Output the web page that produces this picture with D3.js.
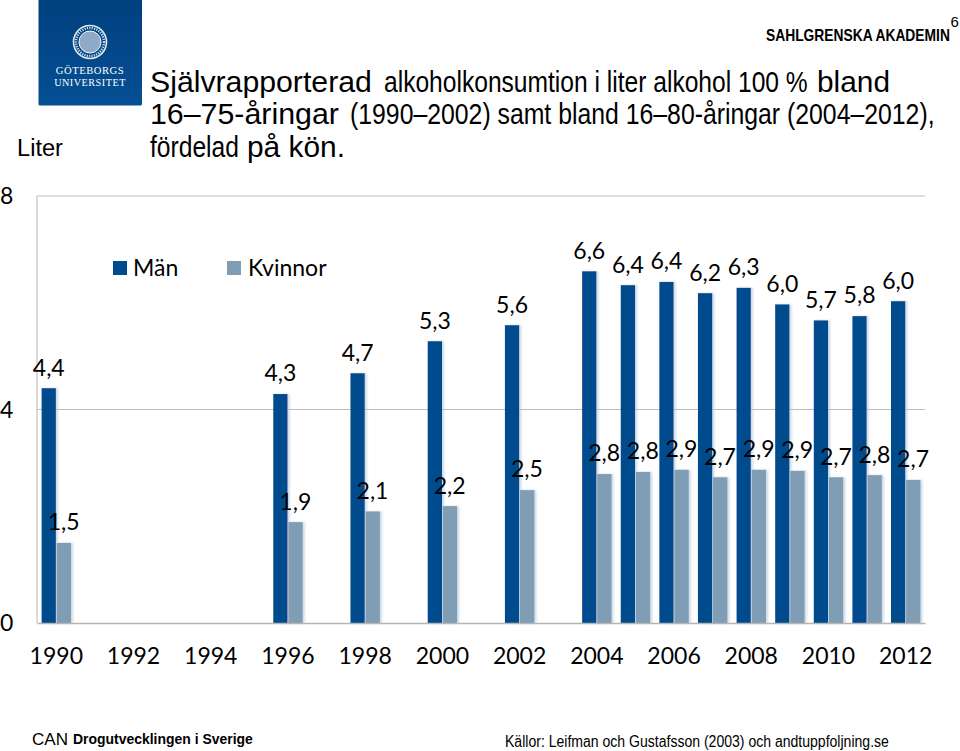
<!DOCTYPE html>
<html><head><meta charset="utf-8">
<script src="https://cdn.jsdelivr.net/npm/d3@7"></script>
<style>
html,body{margin:0;padding:0;background:#fff}
svg{display:block}
text{fill:#000}
.dl,.axis text,.legend text{font-family:Lato,"Open Sans",sans-serif;font-size:23px}
.ar{font-family:"Liberation Sans",Arial,sans-serif}
</style></head><body>
<svg id="c" width="960" height="751"></svg>
<script>
const years = d3.range(1990, 2013);
const tickYears = [1990,1992,1994,1996,1998,2000,2002,2004,2006,2008,2010,2012];
const yTicks = [0,4,8];
const dataYears = [1990,1996,1998,2000,2002,2004,2005,2006,2007,2008,2009,2010,2011,2012];
const men = [4.4,4.29,4.68,5.28,5.58,6.59,6.33,6.39,6.18,6.28,5.97,5.67,5.75,6.03];
const women = [1.5,1.89,2.09,2.19,2.49,2.79,2.83,2.87,2.73,2.87,2.85,2.73,2.77,2.68];
const menLabels = ["4,4","4,3","4,7","5,3","5,6","6,6","6,4","6,4","6,2","6,3","6,0","5,7","5,8","6,0"];
const womenLabels = ["1,5","1,9","2,1","2,2","2,5","2,8","2,8","2,9","2,7","2,9","2,9","2,7","2,8","2,7"];
const seriesNames = ["Män","Kvinnor"];
const colors = ["#004b8d","#7f9db5"];

const svg = d3.select("#c");
const defs = svg.append("defs");
const f = defs.append("filter").attr("id","sh").attr("x","-30%").attr("width","170%").attr("y","-2%").attr("height","104%");
f.append("feDropShadow").attr("dx",2).attr("dy",0).attr("stdDeviation",1.2).attr("flood-color","#a9c0d6").attr("flood-opacity",.6);
const g0 = defs.append("linearGradient").attr("id","lg").attr("x1",0).attr("y1",0).attr("x2",0).attr("y2",1);
g0.append("stop").attr("offset",0).attr("stop-color","#00407e");
g0.append("stop").attr("offset",1).attr("stop-color","#054f94");

const x = d3.scaleBand().domain(years).range([37,925]);
const y = d3.scaleLinear().domain([0,8]).range([623,196]);
const barW = 14.3;

svg.append("g").selectAll("line").data(yTicks.slice(1)).join("line")
  .attr("x1",37).attr("x2",925).attr("y1",d=>y(d)).attr("y2",d=>y(d))
  .attr("stroke","#bdbdbd").attr("stroke-width",1);
svg.append("line").attr("x1",37).attr("x2",37).attr("y1",y(8)).attr("y2",y(0)).attr("stroke","#b5b5b5");

const cx = yr => x(yr)+x.bandwidth()/2;
[[men,-1],[women,0]].forEach(([vals,off],s)=>{
  svg.append("g").selectAll("rect").data(dataYears.map((d,i)=>({yr:d,v:vals[i]}))).join("rect")
    .attr("x",d=>cx(d.yr)+off*barW+(s?0.4:-0.4))
    .attr("y",d=>y(d.v)).attr("width",barW).attr("height",d=>y(0)-y(d.v))
    .attr("fill",colors[s]).attr("filter","url(#sh)");
});
const ax = svg.append("g").attr("class","axis").attr("transform","translate(0,623)")
  .call(d3.axisBottom(x).tickValues(tickYears).tickSize(0).tickPadding(25).tickFormat(d3.format("d")));
ax.select(".domain").attr("stroke","#b5b5b5").attr("stroke-width",1.5);
ax.selectAll("text").attr("fill","#000");
const ay = svg.append("g").attr("class","axis").attr("transform","translate(37,0)")
  .call(d3.axisLeft(y).tickValues(yTicks).tickSize(0).tickFormat(d3.format("d")));
ay.select(".domain").remove();
ay.selectAll("text").attr("x",-37).attr("dy","0.34em").attr("text-anchor","start").attr("fill","#000");

[[men,menLabels,-1],[women,womenLabels,0]].forEach(([vals,labs,off],s)=>{
  svg.append("g").selectAll("text").data(dataYears.map((d,i)=>({yr:d,v:vals[i],l:labs[i]}))).join("text")
    .attr("class","dl").attr("text-anchor","middle")
    .attr("x",d=>cx(d.yr)+off*barW+barW/2+(s?0.2:-0.4))
    .attr("y",d=>y(d.v)-12.6).text(d=>d.l);
});

const leg = svg.append("g").attr("class","legend");
const legX=[113,227], legT=[133,248];
seriesNames.forEach((n,i)=>{
  leg.append("rect").attr("x",legX[i]).attr("y",261).attr("width",14).attr("height",14).attr("fill",colors[i]);
  leg.append("text").attr("x",legT[i]).attr("y",276).text(n);
});

const logo = svg.append("g");
logo.append("rect").attr("x",38.5).attr("y",-2).attr("width",103.5).attr("height",107.5).attr("rx",1.5).attr("fill","url(#lg)");
logo.append("circle").attr("cx",90).attr("cy",42).attr("r",16.5).attr("fill","none").attr("stroke","#dfe8f2").attr("stroke-width",1.6);
logo.append("circle").attr("cx",90).attr("cy",42).attr("r",11).attr("fill","#8fa9c6").attr("stroke","#eef3f8").attr("stroke-width",1);
logo.append("circle").attr("cx",90).attr("cy",42).attr("r",14).attr("fill","none").attr("stroke","#cbd9e8").attr("stroke-width",2.5).attr("stroke-dasharray","1.2 1.2");
logo.append("text").attr("x",90).attr("y",73.5).attr("text-anchor","middle").attr("font-family","Liberation Serif").attr("font-size",10.6).attr("letter-spacing",.55).style("fill","#fff").text("GÖTEBORGS");
logo.append("text").attr("x",90).attr("y",86).attr("text-anchor","middle").attr("font-family","Liberation Serif").attr("font-size",10.2).attr("letter-spacing",.5).style("fill","#fff").text("UNIVERSITET");

const T=(tx,ty,size,str,w,bold)=>{
  const t=svg.append("text").attr("class","ar").attr("font-size",size).text(str);
  if(bold) t.attr("font-weight","bold");
  const n=t.node().getComputedTextLength();
  t.attr("transform",`translate(${tx},${ty}) scale(${w?w/n:1},1)`);
  return t;
};
T(150,92,30,"Självrapporterad",222);
T(384,92,29,"alkoholkonsumtion i liter alkohol 100 %",424);
T(817,92,30,"bland",73);
T(150,124,30,"16–75-åringar",189);
T(350,124,29,"(1990–2002) samt bland 16–80-åringar (2004–2012),",585);
T(150,157,29,"fördelad",89);
T(247,157,30,"på kön.",98);
T(17,156,23,"Liter",46);
T(766,41,16,"SAHLGRENSKA AKADEMIN",184,true);
T(950.5,27,15,"6");
T(32,745,17,"CAN",36);
T(73,744,14.5,"Drogutvecklingen i Sverige",180,true);
T(505,747,16,"Källor: Leifman och Gustafsson (2003) och andtuppfoljning.se",384);
</script>
</body></html>
